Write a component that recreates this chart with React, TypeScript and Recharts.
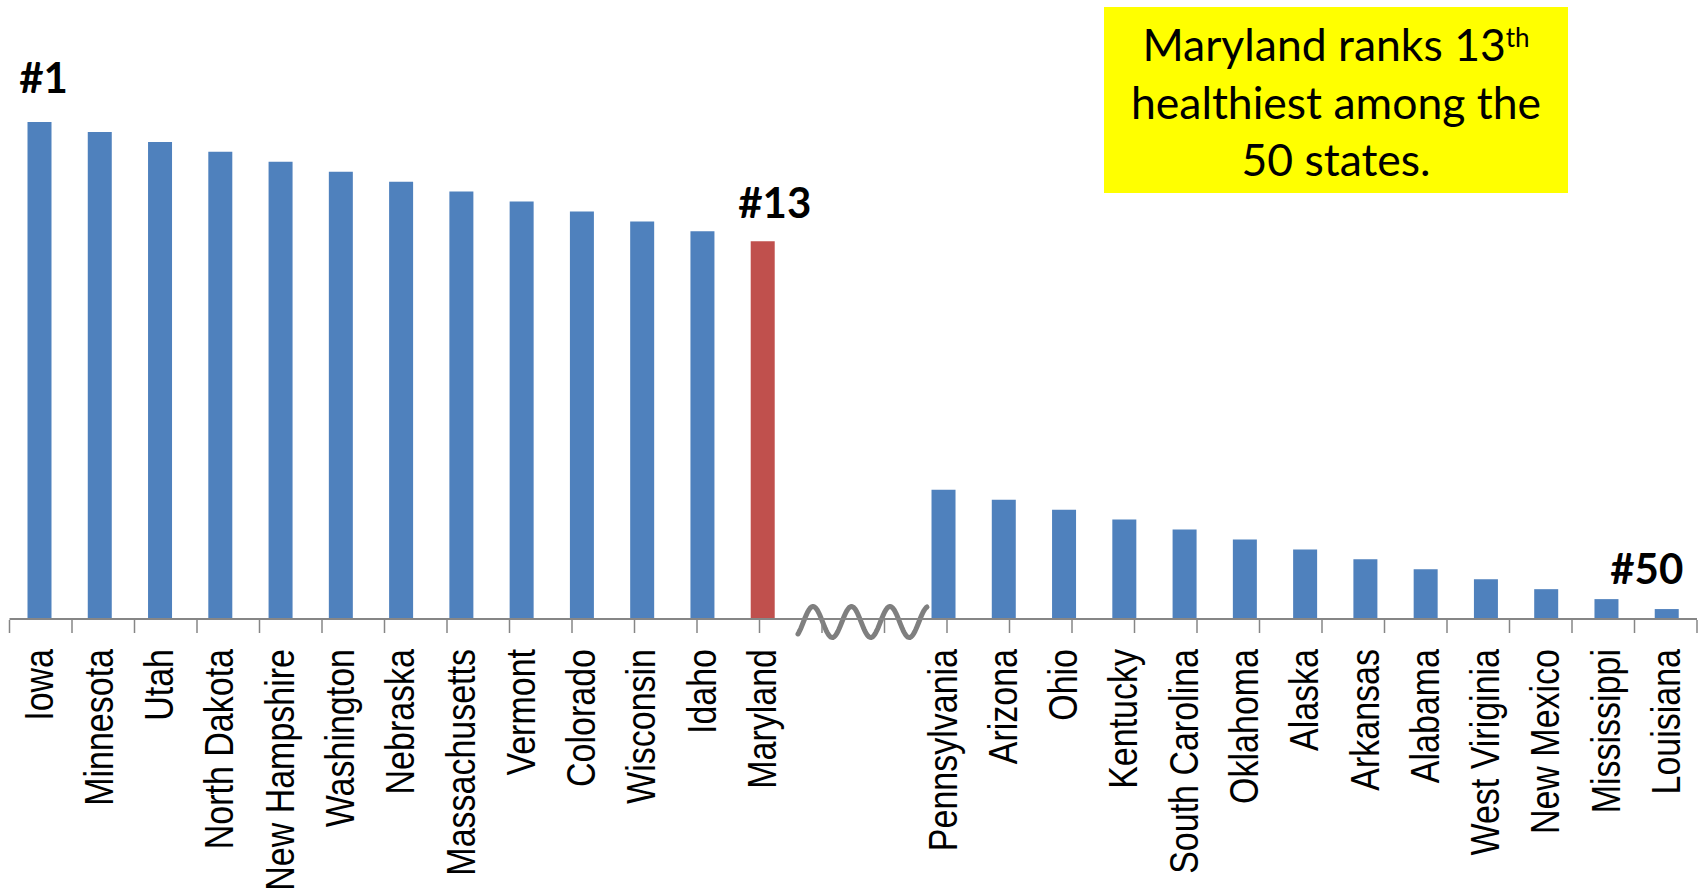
import React from 'react';
import { BarChart, Bar, XAxis, YAxis, Cell, LabelList, ReferenceArea } from 'recharts';

// Healthiest states (top of the ranking), best first
const topStates = [
  'Iowa', 'Minnesota', 'Utah', 'North Dakota', 'New Hampshire', 'Washington', 'Nebraska',
  'Massachusetts', 'Vermont', 'Colorado', 'Wisconsin', 'Idaho', 'Maryland',
];
const topScores = [50, 49, 48, 47, 46, 45, 44, 43, 42, 41, 40, 39, 38];

// Empty slots where the axis is broken
const breakSlots = ['break-1', 'break-2'];

// Least healthy states (bottom of the ranking)
const bottomStates = [
  'Pennsylvania', 'Arizona', 'Ohio', 'Kentucky', 'South Carolina', 'Oklahoma', 'Alaska',
  'Arkansas', 'Alabama', 'West Viriginia', 'New Mexico', 'Mississippi', 'Louisiana',
];
const bottomScores = [13, 12, 11, 10, 9, 8, 7, 6, 5, 4, 3, 2, 1];

const highlightState = 'Maryland';
const rankedStates = ['Iowa', 'Maryland', 'Louisiana'];
const rankTexts = ['#1', '#13', '#50'];

const data = [
  ...topStates.map((state, i) => ({ state, score: topScores[i] as number | null })),
  ...breakSlots.map((state) => ({ state, score: null as number | null })),
  ...bottomStates.map((state, i) => ({ state, score: bottomScores[i] as number | null })),
].map((d) => {
  const k = rankedStates.indexOf(d.state);
  return { ...d, rank: k >= 0 ? rankTexts[k] : null };
});

// category boundaries for the tick marks
const slotTicks = [...data.map((_, i) => i), data.length];

const BLUE = '#4F81BD';
const RED = '#C0504D';
const AXIS_GRAY = '#868686';

const rankLabelNudge: Record<string, { dx: number; dy: number }> = {
  '#1': { dx: 4, dy: -29 },
  '#13': { dx: 12, dy: -23 },
  '#50': { dx: -20, dy: -25 },
};

const StateTick = (props: any) => {
  const { x, y, payload } = props;
  if (breakSlots.includes(payload.value)) return <g />;
  return (
    <text
      transform={`translate(${x + 13},${y + 30}) scale(1.18,1) rotate(-90)`}
      textAnchor="end"
      fontFamily="'Liberation Sans', Arial, sans-serif"
      fontSize={34}
      fill="#000"
    >
      {payload.value}
    </text>
  );
};

const NoLabel = () => <g />;

const RankLabel = (props: any) => {
  const { x, y, width, value } = props;
  if (!value) return null;
  const n = rankLabelNudge[value] || { dx: 0, dy: -25 };
  return (
    <text
      x={x + width / 2 + n.dx}
      y={y + n.dy}
      textAnchor="middle"
      fontFamily="Lato, 'Open Sans', sans-serif"
      fontWeight={700}
      fontSize={42}
      fill="#000"
    >
      {value}
    </text>
  );
};

// wavy break symbol drawn across the axis over the empty slots
const BreakMark = (props: any) => {
  const { x, y, width, height } = props;
  const base = y + height + 3;
  const start = x + 5;
  const end = x + width + 14;
  const origin = x + 10.4;
  const period = 38.5;
  const amp = 15.5;
  const pts: string[] = [];
  for (let px = start; px <= end; px += 1) {
    pts.push(`${px},${base - amp * Math.sin((2 * Math.PI * (px - origin)) / period)}`);
  }
  return (
    <polyline
      points={pts.join(' ')}
      fill="none"
      stroke="#7F7F7F"
      strokeWidth={5}
      strokeLinecap="round"
      strokeLinejoin="round"
    />
  );
};

export default function App() {
  return (
    <div style={{ position: 'absolute', left: 0, top: 0, width: 1704, height: 893, background: '#fff' }}>
      <BarChart
        width={1704}
        height={893}
        data={data}
        margin={{ top: 122, right: 7, bottom: 272, left: 9.5 }}
      >
        <YAxis hide domain={[0, 50]} />
        <XAxis
          dataKey="state"
          interval={0}
          height={1}
          axisLine={{ stroke: AXIS_GRAY, strokeWidth: 2 }}
          tickLine={false}
          tickSize={0}
          tickMargin={0}
          tick={<StateTick />}
        />
        <XAxis
          xAxisId="frame"
          type="number"
          domain={[0, data.length]}
          ticks={slotTicks}
          interval={0}
          allowDataOverflow
          height={1}
          axisLine={false}
          tick={<NoLabel />}
          tickSize={13}
          tickLine={{ stroke: AXIS_GRAY, strokeWidth: 1.5 }}
        />
        <ReferenceArea x1={breakSlots[0]} x2={breakSlots[1]} shape={<BreakMark />} />
        <Bar dataKey="score" barSize={24} isAnimationActive={false}>
          {data.map((d) => (
            <Cell key={d.state} fill={d.state === highlightState ? RED : BLUE} />
          ))}
          <LabelList dataKey="rank" content={<RankLabel />} />
        </Bar>
      </BarChart>
      <div
        style={{
          position: 'absolute',
          left: 1104,
          top: 7,
          width: 464,
          height: 186,
          boxSizing: 'border-box',
          paddingTop: 8,
          background: '#FFFF00',
          textAlign: 'center',
          fontFamily: "Lato, 'Open Sans', sans-serif",
          fontSize: 44.5,
          lineHeight: '57.5px',
          color: '#000',
        }}
      >
        Maryland ranks 13
        <span style={{ fontSize: 26, position: 'relative', top: -14, lineHeight: 0 }}>th</span>
        <br />
        healthiest among the
        <br />
        50 states.
      </div>
    </div>
  );
}
